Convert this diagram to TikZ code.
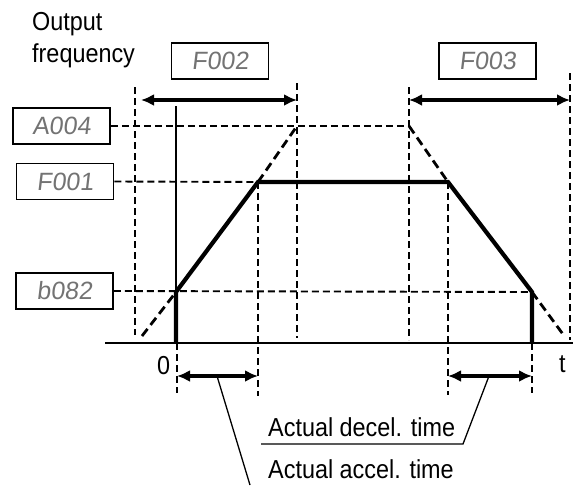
\documentclass[tikz,border=0pt]{standalone}
\usepackage{fontspec}
\setmainfont[FakeStretch=0.9]{Liberation Sans}
\newfontfamily\segfont[FakeSlant=0.12]{Liberation Sans}
\usetikzlibrary{arrows.meta}
\definecolor{segcol}{gray}{0.45}
\tikzset{
  lcd/.style={draw, line width=1.6pt, minimum width=97pt, minimum height=36pt, inner sep=0pt,
    font=\segfont\fontsize{25}{25}\selectfont, text=segcol},
  guide/.style={line width=1.9pt, dash pattern=on 7pt off 4pt},
  curvesolid/.style={line width=4.2pt, line join=miter},
  curvedash/.style={line width=2.8pt, dash pattern=on 9pt off 5pt},
  dimarrow/.style={line width=3.6pt, {Latex[length=13pt,width=12pt]}-{Latex[length=13pt,width=12pt]}},
  leader/.style={line width=1.3pt},
  axisline/.style={line width=1.9pt},
  lbl/.style={font=\fontsize{26}{26}\selectfont, inner sep=0pt, anchor=base west}
}
\begin{document}
\begin{tikzpicture}[x=1pt,y=-1pt]
\useasboundingbox (0,0) rectangle (573,485);
% boxes
\node[lcd] (f002) at (220,61) {F002};
\node[lcd] (f003) at (487.5,61) {F003};
\node[lcd] (a004) at (61.5,126) {A004};
\node[lcd] (f001) at (65,181.5) {F001};
\node[lcd] (b082) at (64.5,291) {b082};
% labels
\node[lbl] (out) at (32,30) {Output};
\node[lbl] (freq) at (32,62) {frequency};
\node[lbl] (zero) at (157,374) {0};
\node[lbl] (tlab) at (559,372) {t};
\node[lbl] (decel) at (268,436) {Actual decel. time};
\node[lbl] (accel) at (268,478) {Actual accel. time};
% key points
\coordinate (o) at (176,343);
\coordinate (axL) at (105,343);
\coordinate (axR) at (573,343);
\coordinate (yT) at (176,106);
\coordinate (p1) at (176,292);
\coordinate (p2) at (258,182);
\coordinate (p3) at (448,182);
\coordinate (p4) at (532,292);
\coordinate (p5) at (532,343);
\coordinate (q0) at (142,336);
\coordinate (q1) at (297,126);
\coordinate (q2) at (409,126);
\coordinate (q3) at (565,337);
% vertical guide ends
\coordinate (v1t) at (135,87);  \coordinate (v1b) at (135,335);
\coordinate (v2t) at (297,83);  \coordinate (v2b) at (297,338);
\coordinate (v3t) at (409,87);  \coordinate (v3b) at (409,340);
\coordinate (v4t) at (570,73);  \coordinate (v4b) at (570,340);
\coordinate (v5b) at (258,396);
\coordinate (v6b) at (448,395);
\coordinate (v7t) at (177,343); \coordinate (v7b) at (177,393);
\coordinate (v8b) at (532,393);
% arrows ends
\coordinate (a1l) at (141,100); \coordinate (a1r) at (297,100);
\coordinate (a2l) at (409,100); \coordinate (a2r) at (570,100);
\coordinate (a3l) at (177,376); \coordinate (a3r) at (258,376);
\coordinate (a4l) at (448,376); \coordinate (a4r) at (532,376);
% leaders
\coordinate (l1a) at (217,376); \coordinate (l1b) at (250,485);
\coordinate (l2a) at (489,376); \coordinate (l2b) at (463,444); \coordinate (l2c) at (261,444);

% guides
\draw[guide] (a004.east) -- (q2);
\draw[guide] (f001.east) -- (p2);
\draw[guide] (b082.east) -- (p4);
\draw[guide] (v1t) -- (v1b);
\draw[guide] (v2t) -- (v2b);
\draw[guide] (v3t) -- (v3b);
\draw[guide] (v4t) -- (v4b);
\draw[guide] (p2) -- (v5b);
\draw[guide] (p3) -- (v6b);
\draw[guide] (v7t) -- (v7b);
\draw[guide] (p5) -- (v8b);
% axes
\draw[axisline] (axL) -- (axR);
\draw[line width=1.4pt] (yT) -- (o);
% curve
\draw[curvedash] (q0) -- (p1);
\draw[curvedash] (p2) -- (q1);
\draw[curvedash] (q2) -- (p3);
\draw[curvedash] (p4) -- (q3);
\draw[curvesolid] (o) -- (p1) -- (p2) -- (p3) -- (p4) -- (p5);
% dimension arrows
\draw[dimarrow] (a1l) -- (a1r);
\draw[dimarrow] (a2l) -- (a2r);
\draw[dimarrow] (a3l) -- (a3r);
\draw[dimarrow] (a4l) -- (a4r);
% leaders
\draw[leader] (l1a) -- (l1b);
\draw[leader] (l2a) -- (l2b) -- (l2c);
\end{tikzpicture}
\end{document}
